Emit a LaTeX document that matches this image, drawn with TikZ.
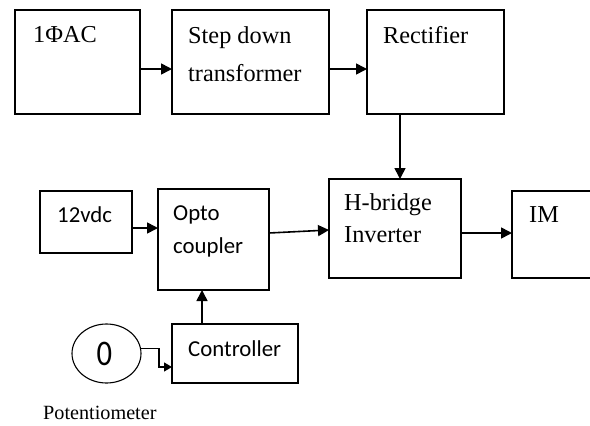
\documentclass[tikz,border=0pt]{standalone}
\usepackage{fontspec}
\setmainfont{Liberation Serif}
\newfontfamily\sansf{Carlito}
\usetikzlibrary{arrows.meta,shapes.geometric}
\tikzset{
  box/.style={draw, line width=1.7pt, rectangle, inner sep=0pt, outer sep=0pt},
  arr/.style={line width=1.6pt, -{Triangle[length=11pt,width=11pt]}},
  thinarr/.style={line width=1.2pt, -{Triangle[length=8pt,width=9pt]}},
  ser/.style={anchor=base west, inner sep=0pt, font=\fontsize{24.3}{24}\selectfont},
  sans/.style={anchor=base west, inner sep=0pt, font=\sansf\fontsize{22.8}{22}\selectfont},
}
\begin{document}
\begin{tikzpicture}[x=1pt,y=-1pt]
\useasboundingbox (0,0) rectangle (590,426);
\begin{scope}
\clip (0,0) rectangle (590,426);
% boxes
\node[box, minimum width=125pt, minimum height=104pt] (b1) at (77.5,62) {};
\node[box, minimum width=157pt, minimum height=104pt] (b2) at (250.5,62) {};
\node[box, minimum width=137pt, minimum height=104pt] (b3) at (435.5,62) {};
\node[box, minimum width=132pt, minimum height=99pt] (hb) at (395,228.5) {};
\node[box, minimum width=108pt, minimum height=87pt] (im) at (566,234.5) {};
\node[box, minimum width=92pt, minimum height=62pt] (vd) at (86,222) {};
\node[box, minimum width=111pt, minimum height=101pt] (op) at (213.5,239.5) {};
\node[box, minimum width=126pt, minimum height=59pt] (ct) at (235,353.5) {};
\node[draw, ellipse, line width=1.1pt, minimum width=69pt, minimum height=59pt, inner sep=0pt] (pot) at (106.5,353.5) {};
\end{scope}
% texts
\node[ser] (t1) at (33,42) {1ΦAC};
\node[ser] (t2a) at (188,43) {Step down};
\node[ser] (t2b) at (188,81) {transformer};
\node[ser] (t3) at (383,43) {Rectifier};
\node[ser] (t4a) at (344,210) {H-bridge};
\node[ser] (t4b) at (344,242) {Inverter};
\node[ser] (t5) at (529,222) {IM};
\node[sans] (t6) at (57,222) {12vdc};
\node[sans] (t7a) at (173,220) {Opto};
\node[sans] (t7b) at (173,253) {coupler};
\node[sans] (t8) at (188,356) {Controller};
\node[anchor=center, inner sep=0pt, xscale=0.85, font=\sansf\fontsize{36}{36}\selectfont] (t9) at (104.5,354) {0};
\node[anchor=base west, inner sep=0pt, font=\fontsize{20.2}{20}\selectfont] (t10) at (43,419) {Potentiometer};
% connectors
\draw[arr] (b1.east |- 0,69) -- (b2.west |- 0,69);
\draw[arr] (b2.east |- 0,69) -- (b3.west |- 0,69);
\draw[arr] (b3.south -| 400,0) -- (hb.north -| 400,0);
\draw[arr] (vd.east |- 0,228) -- (op.west |- 0,228);
\draw[arr] (op.east |- 0,233) -- (hb.west |- 0,230);
\draw[arr] (hb.east |- 0,233) -- (im.west |- 0,233);
\draw[arr] (ct.north -| 202,0) -- (op.south -| 202,0);
\coordinate (k) at (159,367);
\draw[thinarr] (pot.8) -| (k) -- (ct.west |- k);
\end{tikzpicture}
\end{document}
